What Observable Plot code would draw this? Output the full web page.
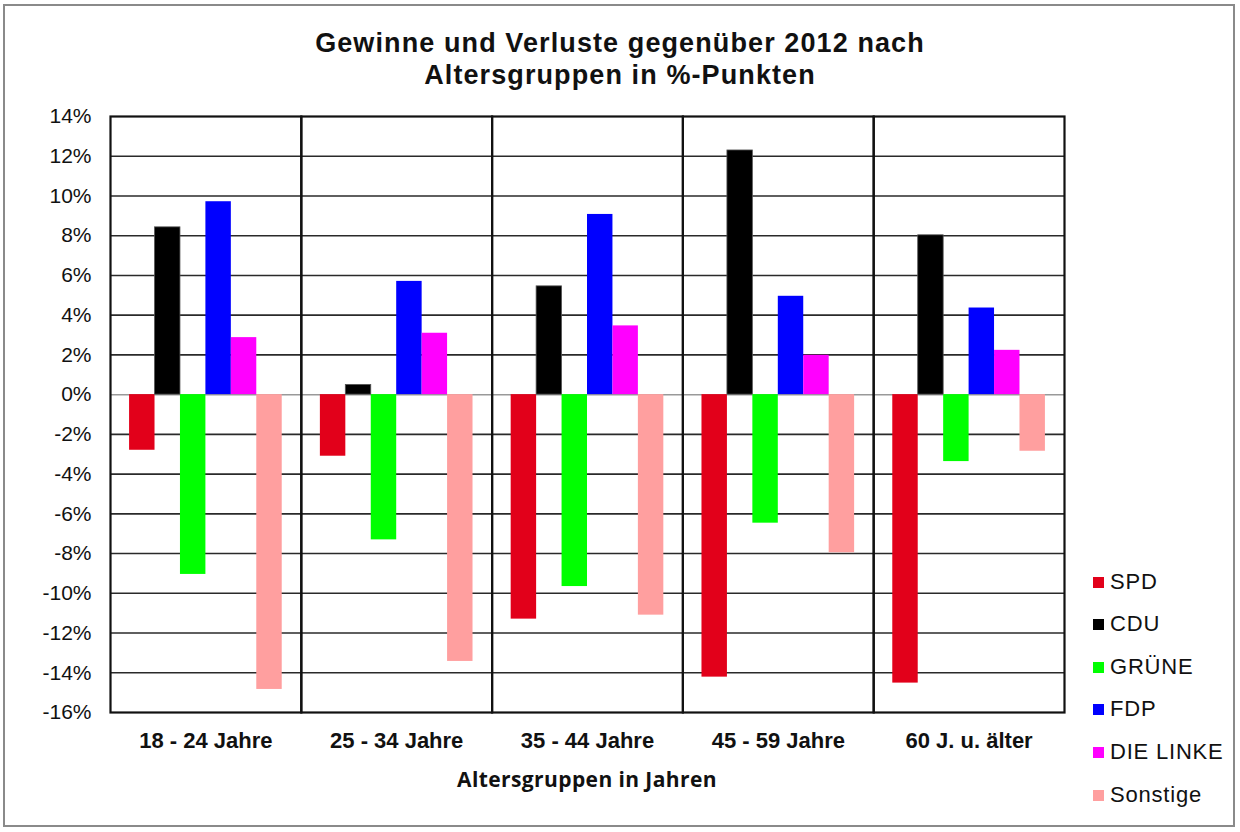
<!DOCTYPE html>
<html>
<head>
<meta charset="utf-8">
<script src="https://cdn.jsdelivr.net/npm/d3@7"></script>
<script src="https://cdn.jsdelivr.net/npm/@observablehq/plot@0.6"></script>
<style>
  html, body { margin: 0; padding: 0; background: #fff; }
  #wrap { position: relative; width: 1240px; height: 832px; overflow: hidden; font-family: "Liberation Sans", Arial, sans-serif; }
  #border { position: absolute; left: 3px; top: 4px; width: 1232px; height: 823px; border: 2px solid #8a8a8a; box-sizing: border-box; pointer-events: none; }
  #title { position: absolute; left: 0; width: 1240px; top: 27px; text-align: center; font-weight: bold; font-size: 27px; line-height: 32px; color: #111; letter-spacing: 1.1px; }
  #chart { position: absolute; left: 0; top: 0; }
  #xtitle { position: absolute; left: 110px; width: 954px; top: 765px; text-align: center; font-family: "Open Sans", sans-serif; font-weight: bold; font-size: 21px; color: #111; letter-spacing: 0.4px; }
  .leg { position: absolute; left: 1093px; height: 24px; display: flex; align-items: center; font-size: 22px; color: #111; letter-spacing: 0.8px; }
  .leg span.sw { width: 11px; height: 11px; display: inline-block; margin-right: 6px; }
</style>
</head>
<body>
<div id="wrap">
  <div id="title">Gewinne und Verluste gegenüber 2012 nach<br>Altersgruppen in %-Punkten</div>
  <div id="chart"></div>
  <div id="xtitle">Altersgruppen in Jahren</div>
  <div id="legend"></div>
  <div id="border"></div>
</div>
<script>
const groups = ["18 - 24 Jahre", "25 - 34 Jahre", "35 - 44 Jahre", "45 - 59 Jahre", "60 J. u. älter"];
const parties = ["SPD", "CDU", "GRÜNE", "FDP", "DIE LINKE", "Sonstige"];
const colors = ["#e2001a", "#000000", "#00ff00", "#0000ff", "#ff00ff", "#ff9f9f"];
const spd = [-2.80, -3.10, -11.30, -14.22, -14.52];
const cdu = [8.42, 0.49, 5.45, 12.29, 8.02];
const gruene = [-9.05, -7.31, -9.66, -6.47, -3.37];
const fdp = [9.71, 5.70, 9.07, 4.95, 4.36];
const linke = [2.87, 3.09, 3.46, 1.98, 2.23];
const sonstige = [-14.84, -13.43, -11.10, -7.96, -2.85];
const yTicks = [-16, -14, -12, -10, -8, -6, -4, -2, 0, 2, 4, 6, 8, 10, 12, 14];

const series = [spd, cdu, gruene, fdp, linke, sonstige];
const table = [];
groups.forEach((g, gi) => parties.forEach((p, pi) => table.push({group: g, party: p, value: series[pi][gi]})));

const plot = Plot.plot({
  width: 1240,
  height: 832,
  marginTop: 116,
  marginBottom: 120,
  marginLeft: 110,
  marginRight: 176,
  style: {fontFamily: "'Liberation Sans', Arial, sans-serif", fontSize: "21px", color: "#111", background: "transparent"},
  fx: {domain: groups, padding: 0, round: false, label: null},
  x: {domain: parties, paddingInner: 0, paddingOuter: 0.75, round: false, axis: null},
  y: {domain: [-16, 14], label: null},
  color: {domain: parties, range: colors},
  marks: [
    Plot.ruleY(yTicks.filter(d => d !== 0 && d !== 14 && d !== -16), {stroke: "#2a2a2a", strokeWidth: 1.6}),
    Plot.ruleY([0], {stroke: "#999", strokeWidth: 1.5}),
    Plot.barY(table, {fx: "group", x: "party", y: "value", fill: "party", stroke: d => d.party === "CDU" ? "#555" : "none", strokeWidth: 0.8}),
    Plot.frame({stroke: "#111", strokeWidth: 2.2}),
    Plot.axisY({ticks: yTicks, tickFormat: d => d + "%", tickSize: 0, tickPadding: 19, fontSize: 21, label: null, letterSpacing: 0.6}),
    Plot.axisFx({anchor: "bottom", tickSize: 0, tickPadding: 20, fontSize: 22, fontWeight: "bold", letterSpacing: 0.8, label: null})
  ]
});
document.getElementById("chart").appendChild(plot);

const legendEl = document.getElementById("legend");
const legendTops = [570, 612, 655, 697, 740, 783];
parties.forEach((p, i) => {
  const row = document.createElement("div");
  row.className = "leg";
  row.style.top = legendTops[i] + "px";
  const sw = document.createElement("span");
  sw.className = "sw";
  sw.style.background = colors[i];
  row.appendChild(sw);
  row.appendChild(document.createTextNode(p));
  legendEl.appendChild(row);
});
</script>
</body>
</html>
